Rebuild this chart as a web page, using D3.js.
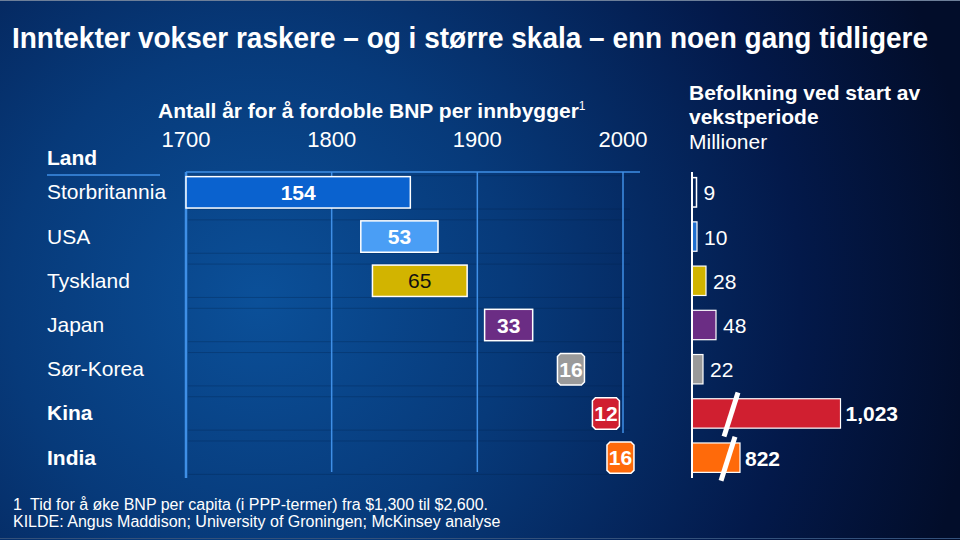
<!DOCTYPE html>
<html><head><meta charset="utf-8">
<script src="https://cdn.jsdelivr.net/npm/d3@7"></script>
<style>
html,body{margin:0;padding:0;background:#04183f;}
svg{display:block;font-family:"Liberation Sans",Arial,sans-serif;}
</style></head>
<body>
<script>
const countries = ["Storbritannia","USA","Tyskland","Japan","Sør-Korea","Kina","India"];
const boldCountry = [false,false,false,false,false,true,true];
const startYear = [1700,1820,1828,1905,1955,1979,1989];
const yearsToDouble = [154,53,65,33,16,12,16];
const yearTicks = [1700,1800,1900,2000];
const population = [9,10,28,48,22,1023,822];
const popLabels = ["9","10","28","48","22","1,023","822"];
const barColors = ["#0a62cf","#4a9ef5","#d2b400","#6b2d84","#9a9a9a","#d01f30","#ff6a0a"];
const popColors = ["none","#1f6fd0","#d2b400","#6b2d84","#9a9a9a","#d01f30","#ff6a0a"];
const labelColors = ["#fff","#fff","#111","#fff","#fff","#fff","#fff"];
const labelBold = [true,true,false,true,true,true,true];

const W=960,H=540, FS=21;
const svg=d3.select("body").append("svg").attr("width",W).attr("height",H);
const defs=svg.append("defs");
const rg=defs.append("radialGradient").attr("id","bg").attr("gradientUnits","userSpaceOnUse")
  .attr("cx",260).attr("cy",300).attr("r",720).attr("fx",260).attr("fy",300);
rg.append("stop").attr("offset","0").attr("stop-color","#0b5099");
rg.append("stop").attr("offset","0.35").attr("stop-color","#073a7a");
rg.append("stop").attr("offset","0.75").attr("stop-color","#03194a");
rg.append("stop").attr("offset","1").attr("stop-color","#020d2a");
svg.append("rect").attr("width",W).attr("height",H).attr("fill","url(#bg)");
svg.append("line").attr("x1",0).attr("x2",W).attr("y1",0.5).attr("y2",0.5).attr("stroke","#6d7f99").attr("stroke-width",1);
svg.append("line").attr("x1",0).attr("x2",W).attr("y1",538.5).attr("y2",538.5).attr("stroke","#33507a").attr("stroke-width",1);

// Title
svg.append("text").attr("x",12).attr("y",48)
  .style("font-family","'Liberation Sans Narrow','Liberation Sans',Arial,sans-serif")
  .attr("font-weight","bold").attr("font-size",29).attr("fill","#fff")
  .attr("textLength",916).attr("lengthAdjust","spacingAndGlyphs")
  .text("Inntekter vokser raskere – og i større skala – enn noen gang tidligere");

// Scales
const x=d3.scaleLinear().domain([1700,2000]).range([186,623]);
const y=d3.scaleBand().domain(countries).range([170,480]).paddingInner(0.29).paddingOuter(0.15);
const bh=y.bandwidth();

// Header
const hdr=svg.append("text").attr("x",158).attr("y",118).attr("fill","#fff").attr("font-weight","bold").attr("font-size",FS);
hdr.append("tspan").text("Antall år for å fordoble BNP per innbygger");
hdr.append("tspan").attr("font-size",12).attr("dy",-8).attr("font-weight","normal").text("1");
svg.append("text").attr("x",47).attr("y",165).attr("fill","#fff").attr("font-weight","bold").attr("font-size",FS).text("Land");
svg.append("line").attr("x1",47).attr("x2",160).attr("y1",175).attr("y2",175).attr("stroke","#3f8fe6").attr("stroke-width",1.5);

// year tick labels
svg.selectAll(".yt").data(yearTicks).join("text").attr("x",d=>x(d)).attr("y",147)
  .attr("text-anchor","middle").attr("fill","#fff").attr("font-size",22).text(d=>d);

// faint row separators
const g=svg.append("g");
countries.forEach(c=>{
  [y(c)-1,y(c)+bh+1].forEach(yy=>{
    g.append("line").attr("x1",188).attr("x2",630).attr("y1",yy).attr("y2",yy)
      .attr("stroke","#02204a").attr("stroke-opacity",0.3).attr("stroke-width",1);
  });
});

// grid
const gridCol="#3f8fe6";
svg.append("line").attr("x1",x(1700)).attr("x2",640).attr("y1",172).attr("y2",172).attr("stroke",gridCol).attr("stroke-width",1.5);
const gridEnd={1700:478,1800:472,1900:472,2000:433};
svg.selectAll(".gl").data(yearTicks).join("line")
  .attr("x1",d=>x(d)).attr("x2",d=>x(d)).attr("y1",172).attr("y2",d=>gridEnd[d])
  .attr("stroke",gridCol).attr("stroke-width",d=>d===1700?2.5:1.5);

// country labels
svg.selectAll(".cl").data(countries).join("text").attr("x",47).attr("y",d=>y(d)+bh/2+7)
  .attr("fill","#fff").attr("font-size",FS).attr("font-weight",(d,i)=>boldCountry[i]?"bold":"normal").text(d=>d);

// bars
const minW=27;
function chamfer(x0,y0,w,h,c){
  return `M${x0+c},${y0}H${x0+w-c}L${x0+w},${y0+c}V${y0+h-c}L${x0+w-c},${y0+h}H${x0+c}L${x0},${y0+h-c}V${y0+c}Z`;
}
countries.forEach((c,i)=>{
  const x0=x(startYear[i]);
  const w=Math.max(x(startYear[i]+yearsToDouble[i])-x0,minW);
  const y0=y(c);
  const small=w<=minW+1;
  if(small){
    svg.append("path").attr("d",chamfer(x0,y0,w,bh,3)).attr("fill",barColors[i]).attr("stroke","#fff").attr("stroke-width",1.5);
  } else {
    svg.append("rect").attr("x",x0).attr("y",y0).attr("width",w).attr("height",bh)
      .attr("fill",barColors[i]).attr("stroke","#fff").attr("stroke-width",1.5);
  }
  svg.append("text").attr("x",x0+w/2).attr("y",y0+bh/2+7.5).attr("text-anchor","middle")
    .attr("fill",labelColors[i]).attr("font-size",FS).attr("font-weight",labelBold[i]?"bold":"normal").text(yearsToDouble[i]);
});

// Right panel
svg.append("text").attr("x",689).attr("y",100).attr("fill","#fff").attr("font-weight","bold").attr("font-size",FS).text("Befolkning ved start av");
svg.append("text").attr("x",689).attr("y",124).attr("fill","#fff").attr("font-weight","bold").attr("font-size",FS).text("vekstperiode");
svg.append("text").attr("x",689).attr("y",149).attr("fill","#fff").attr("font-size",FS).text("Millioner");

const px=d3.scaleLinear().domain([0,50,776,1100]).range([692,717,717,879]);
countries.forEach((c,i)=>{
  const y0=y(c)+1, x1=px(population[i]);
  svg.append("rect").attr("x",692).attr("y",y0).attr("width",x1-692).attr("height",bh-2)
    .attr("fill",popColors[i]).attr("stroke","#fff").attr("stroke-width",i===0?1.5:1.2);
  const big=population[i]>500;
  svg.append("text").attr("x",x1+(big?5:7)).attr("y",y0+bh/2+7).attr("fill","#fff")
    .attr("font-size",FS).attr("font-weight",big?"bold":"normal").text(popLabels[i]);
  if(big){
    const cx=731-(i===6?3:0), cy=y0+bh/2;
    svg.append("line").attr("x1",cx-7).attr("y1",cy+22).attr("x2",cx+7).attr("y2",cy-22)
      .attr("stroke","#fff").attr("stroke-width",5);
  }
});
svg.append("line").attr("x1",692).attr("x2",692).attr("y1",172).attr("y2",478).attr("stroke","#fff").attr("stroke-width",2);

// footnotes
const f1=svg.append("text").attr("y",510).attr("fill","#fff").attr("font-size",16);
f1.append("tspan").attr("x",13).text("1");
f1.append("tspan").attr("x",30).text("Tid for å øke BNP per capita (i PPP-termer) fra $1,300 til $2,600.");
svg.append("text").attr("x",13).attr("y",527).attr("fill","#fff").attr("font-size",16)
  .text("KILDE: Angus Maddison; University of Groningen; McKinsey analyse");
</script>
</body></html>
